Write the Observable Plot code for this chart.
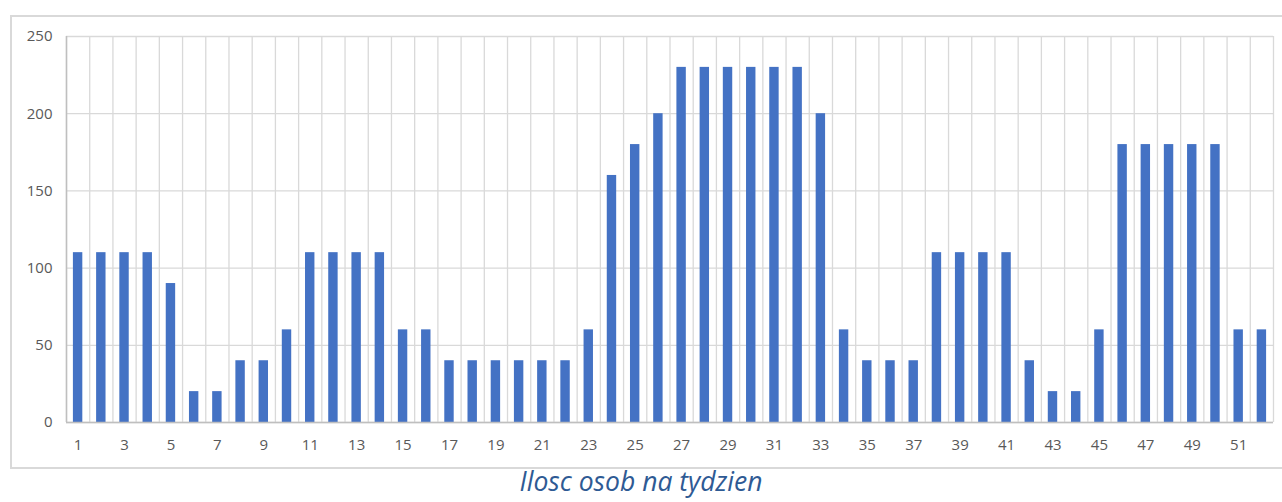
<!DOCTYPE html>
<html>
<head>
<meta charset="utf-8">
<script src="https://cdn.jsdelivr.net/npm/d3@7"></script>
<script src="https://cdn.jsdelivr.net/npm/@observablehq/plot@0.6"></script>
<style>
  html, body { margin: 0; padding: 0; background: #fff; width: 1282px; height: 502px; overflow: hidden; }
  #frame { position: absolute; left: 10px; top: 15px; width: 1300px; height: 450px; border: 2px solid #d9d9d9; box-sizing: content-box; }
  #chart { position: absolute; left: 0; top: 0; }
  #title { position: absolute; left: 0; top: 467px; width: 1282px; text-align: center; line-height: 1.1;
           font-family: "Open Sans", sans-serif; font-style: italic; font-size: 26.5px; color: #2E5A94; }
</style>
</head>
<body>
<div id="frame"></div>
<div id="chart"></div>
<div id="title">Ilosc osob na tydzien</div>
<script>
const weeks = d3.range(1, 53);
const values = [110,110,110,110,90,20,20,40,40,60,110,110,110,110,60,60,40,40,40,40,40,40,60,160,180,200,230,230,230,230,230,230,200,60,40,40,40,110,110,110,110,40,20,20,60,180,180,180,180,180,60,60];
const xTickLabels = weeks.filter(w => w % 2 === 1);
const yTicks = [0, 50, 100, 150, 200, 250];

const data = weeks.map((w, i) => ({week: w, value: values[i]}));
const boundaries = weeks.map(w => w - 0.5).concat([weeks[weeks.length - 1] + 0.5]);

const chart = Plot.plot({
  width: 1282,
  height: 470,
  marginLeft: 66,
  marginRight: 9,
  marginTop: 36,
  marginBottom: 48,
  style: { fontFamily: "'Open Sans', sans-serif", fontSize: "15px", color: "#595959", background: "transparent" },
  x: { domain: [0.5, 52.5], ticks: xTickLabels, tickSize: 0, tickPadding: 17, label: null, tickFormat: d => String(d) },
  y: { domain: [0, 250], ticks: yTicks, tickSize: 0, tickPadding: 14, label: null },
  marks: [
    Plot.ruleY(yTicks, { stroke: "#d9d9d9", strokeWidth: 1.3 }),
    Plot.ruleX(boundaries, { stroke: "#d9d9d9", strokeWidth: 1.3 }),
    Plot.rectY(data, { x1: d => d.week - 0.5, x2: d => d.week + 0.5, y: "value", fill: "#4472C4", insetLeft: 6.9, insetRight: 6.9 }),
    Plot.ruleX([0.5], { stroke: "#bfbfbf", strokeWidth: 1.5 }),
    Plot.ruleY([0], { stroke: "#bfbfbf", strokeWidth: 1.5 })
  ]
});
document.getElementById("chart").appendChild(chart);
</script>
</body>
</html>
